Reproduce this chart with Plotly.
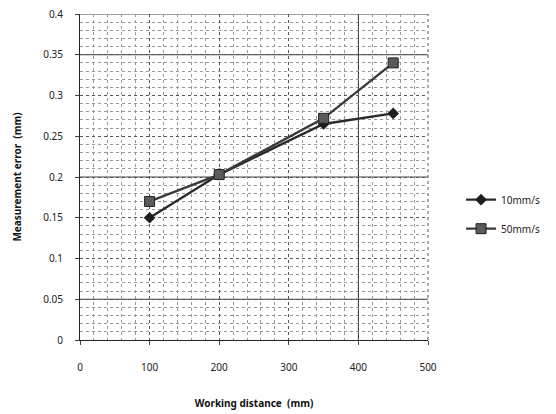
import plotly.graph_objects as go

distance = [100, 200, 350, 450]
err_10 = [0.150, 0.203, 0.265, 0.278]
err_50 = [0.170, 0.203, 0.272, 0.340]
series_names = ["10mm/s", "50mm/s"]
x_ticks = [0, 100, 200, 300, 400, 500]
y_ticks = [0, 0.05, 0.1, 0.15, 0.2, 0.25, 0.3, 0.35, 0.4]

fig = go.Figure()
fig.add_trace(go.Scatter(x=distance, y=err_10, name=series_names[0], mode="lines+markers",
                         legendgroup="a",
                         line=dict(color="#2a2a2a", width=2.4),
                         marker=dict(symbol="diamond", size=9, color="#1e1e1e")))
fig.add_trace(go.Scatter(x=distance, y=err_50, name=series_names[1], mode="lines+markers",
                         legendgroup="b",
                         line=dict(color="#3a3a3a", width=2.4),
                         marker=dict(symbol="square", size=10, color="#5a5a5a",
                                     line=dict(color="#222", width=1))))

# accent solid grid lines as in the scanned original
for xv in [400]:
    fig.add_shape(type="line", x0=xv, x1=xv, y0=0, y1=0.4, xref="x", yref="y",
                  line=dict(color="#222", width=1), layer="below")
for yv in [0.05, 0.2, 0.35, 0.4]:
    fig.add_shape(type="line", x0=0, x1=500, y0=yv, y1=yv, xref="x", yref="y",
                  line=dict(color="#444", width=1), layer="below")

font = "Noto Sans, DejaVu Sans, sans-serif"
fig.update_layout(
    width=556, height=414,
    margin=dict(l=80, r=128, t=14, b=74, autoexpand=False),
    paper_bgcolor="white", plot_bgcolor="white",
    font=dict(family=font, size=10, color="#222"),
    showlegend=True,
    legend=dict(x=1.095, y=0.386, xanchor="left", yanchor="middle",
                font=dict(size=10, color="#222"), tracegroupgap=10,
                itemwidth=30, bgcolor="rgba(0,0,0,0)"),
    xaxis=dict(range=[0, 500], tickvals=x_ticks, showgrid=True, automargin=False,
               gridcolor="#555", griddash="dot", gridwidth=1,
               minor=dict(dtick=20, showgrid=True, gridcolor="#999", griddash="dot", gridwidth=1),
               showline=True, linecolor="#222", linewidth=1, mirror=False,
               ticks="outside", ticklen=4, tickcolor="#444",
               ticklabelstandoff=14, zeroline=False,
               title=dict(text="<b>Working distance  (mm)</b>", font=dict(size=10, color="#111"), standoff=26)),
    yaxis=dict(range=[0, 0.4], tickvals=y_ticks, showgrid=True, automargin=False,
               gridcolor="#555", griddash="dot", gridwidth=1,
               minor=dict(dtick=0.01, showgrid=True, gridcolor="#999", griddash="dot", gridwidth=1),
               showline=True, linecolor="#222", linewidth=1,
               ticks="outside", ticklen=4, tickcolor="#444",
               ticklabelstandoff=10, zeroline=False,
               title=dict(text="<b>Measurement error  (mm)</b>", font=dict(size=10, color="#111"), standoff=19)),
)
# dotted right border
fig.add_shape(type="line", x0=1, x1=1, y0=0, y1=1, xref="paper", yref="paper",
              line=dict(color="#555", width=1, dash="dot"))

fig.write_html("out.html", config={"displayModeBar": False},
               post_script="document.body.style.margin='0';")
